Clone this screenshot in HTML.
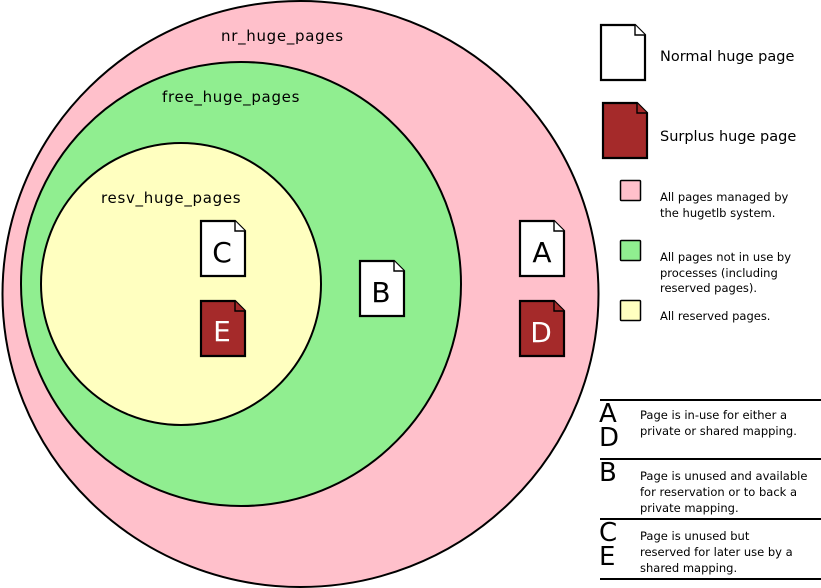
<!DOCTYPE html>
<html><head><meta charset="utf-8"><style>
html,body{margin:0;padding:0;background:#fff;}
svg{display:block;font-family:"DejaVu Sans","Liberation Sans",sans-serif;}
</style></head><body>
<svg width="821" height="588" viewBox="0 0 821 588" xmlns="http://www.w3.org/2000/svg">
<defs>
<g id="pw"><path d="M0,0 H34 L44,10 V55 H0 Z" fill="#fff" stroke="#000" stroke-width="2.2"/><path d="M34,0 V10 H44" fill="#fff" stroke="#000" stroke-width="1.4"/></g>
<g id="pr"><path d="M0,0 H34 L44,10 V55 H0 Z" fill="#a52a2a" stroke="#000" stroke-width="2.2"/><path d="M34,0 V10 H44" fill="#a52a2a" stroke="#000" stroke-width="1.4"/></g>
</defs>
<ellipse cx="300.5" cy="294" rx="298" ry="293" fill="#ffc0cb" stroke="#000" stroke-width="2"/>
<ellipse cx="241" cy="284" rx="220" ry="222" fill="#90ee90" stroke="#000" stroke-width="2"/>
<ellipse cx="181" cy="284" rx="140" ry="141" fill="#ffffc0" stroke="#000" stroke-width="2"/>
<text x="221" y="41" font-size="15" letter-spacing="0.7">nr_huge_pages</text>
<text x="162" y="102" font-size="15" letter-spacing="0.7">free_huge_pages</text>
<text x="101" y="203" font-size="15" letter-spacing="0.7">resv_huge_pages</text>
<use href="#pw" x="201" y="221"/><text x="222" y="262" font-size="28" text-anchor="middle">C</text>
<use href="#pr" x="201" y="301"/><text x="222" y="341" font-size="28" text-anchor="middle" fill="#fff">E</text>
<use href="#pw" x="360" y="261"/><text x="381" y="302" font-size="28" text-anchor="middle">B</text>
<use href="#pw" x="520" y="221"/><text x="542" y="262" font-size="28" text-anchor="middle">A</text>
<use href="#pr" x="520" y="301"/><text x="541" y="342" font-size="28" text-anchor="middle" fill="#fff">D</text>
<use href="#pw" x="601" y="25"/>
<use href="#pr" x="603" y="103"/>
<text x="660" y="61" font-size="14.5">Normal huge page</text>
<text x="660" y="141" font-size="14.5">Surplus huge page</text>
<rect x="620.5" y="180.5" width="20" height="20" rx="1" fill="#ffc0cb" stroke="#000" stroke-width="1.5"/>
<rect x="620.5" y="240.5" width="20" height="20" rx="1" fill="#90ee90" stroke="#000" stroke-width="1.5"/>
<rect x="620.5" y="300.5" width="20" height="20" rx="1" fill="#ffffc0" stroke="#000" stroke-width="1.5"/>
<g font-size="11.5">
<text x="660" y="201">All pages managed by</text>
<text x="660" y="217">the hugetlb system.</text>
<text x="660" y="261">All pages not in use by</text>
<text x="660" y="277">processes (including</text>
<text x="660" y="292">reserved pages).</text>
<text x="660" y="320">All reserved pages.</text>
</g>
<g stroke="#000" stroke-width="2">
<line x1="600" y1="400" x2="821" y2="400"/>
<line x1="600" y1="459" x2="821" y2="459"/>
<line x1="600" y1="519" x2="821" y2="519"/>
<line x1="600" y1="579" x2="821" y2="579"/>
</g>
<g font-size="26">
<text x="599" y="422">A</text>
<text x="599" y="446">D</text>
<text x="599" y="481">B</text>
<text x="599" y="541">C</text>
<text x="599" y="565">E</text>
</g>
<g font-size="11.5">
<text x="640" y="419">Page is in-use for either a</text>
<text x="640" y="435">private or shared mapping.</text>
<text x="640" y="480">Page is unused and available</text>
<text x="640" y="496">for reservation or to back a</text>
<text x="640" y="512">private mapping.</text>
<text x="640" y="540">Page is unused but</text>
<text x="640" y="556">reserved for later use by a</text>
<text x="640" y="572">shared mapping.</text>
</g>
</svg>
</body></html>
